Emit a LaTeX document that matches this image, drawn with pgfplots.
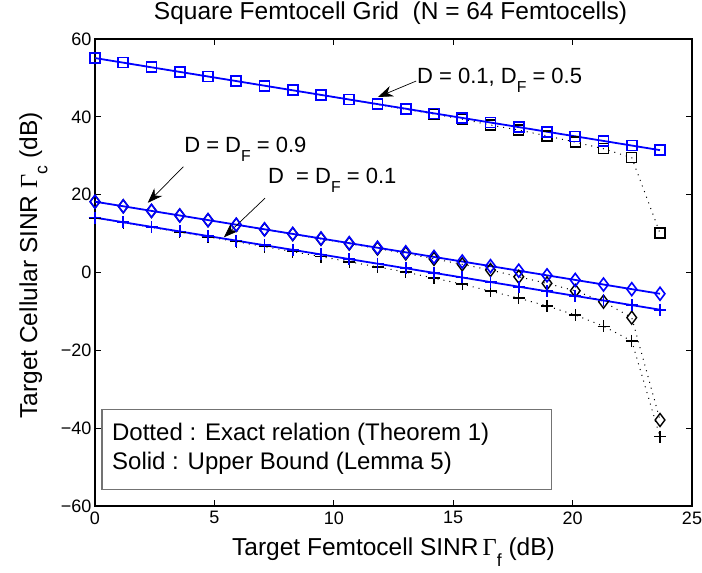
\documentclass[border=0pt]{standalone}
\usepackage{fontspec}
\setmainfont{Liberation Sans}
\newfontfamily\greekserif{Liberation Serif}
\usepackage{graphicx}
\usepackage{pgfplots}
\pgfplotsset{compat=1.18}
\usetikzlibrary{arrows.meta}

\newcommand{\lowsub}[1]{\raisebox{-0.42em}{\scalebox{0.72}{#1}}}
\newcommand{\Gam}{{\greekserif\char"0393}}

% x = target femtocell SINR (dB), 21 points
\pgfplotstableread{
x      ubA    exA    ubB    exB    ubC    exC
0.000  55.10  55.10  18.20  18.20  14.10  14.05
1.183  53.92  53.92  17.02  17.02  12.92  12.82
2.366  52.73  52.73  15.83  15.82  11.73  11.60
3.549  51.55  51.55  14.65  14.63  10.55  10.38
4.732  50.37  50.36  13.47  13.44   9.37   9.17
5.915  49.19  49.18  12.29  12.25   8.19   7.92
7.098  48.00  47.99  11.10  11.05   7.00   6.65
8.281  46.82  46.80   9.92   9.85   5.82   5.37
9.464  45.64  45.61   8.74   8.64   4.64   4.08
10.647 44.45  44.41   7.55   7.42   3.45   2.75
11.830 43.27  43.20   6.37   6.15   2.27   1.45
13.013 42.09  41.95   5.19   4.90   1.09   0.10
14.196 40.90  40.70   4.00   3.50  -0.10  -1.45
15.379 39.72  39.40   2.82   2.10  -1.28  -3.00
16.562 38.54  37.90   1.64   0.64  -2.46  -4.80
17.745 37.36  36.60   0.46  -1.10  -3.65  -6.60
18.928 36.17  35.10  -0.73  -2.80  -4.83  -8.60
20.111 34.99  33.50  -1.91  -4.70  -6.01 -10.90
21.294 33.81  31.80  -3.09  -7.50  -7.19 -13.80
22.477 32.62  29.50  -4.28 -11.60  -8.38 -17.60
23.660 31.44  10.10  -5.46 -37.90  -9.56 -42.20
}\datatable

\begin{document}
\begin{tikzpicture}
\begin{axis}[
    scale only axis,
    width=597pt, height=467pt,
    xmin=0, xmax=25, ymin=-60, ymax=60,
    xtick={0,5,10,15,20,25},
    xticklabels={0,5,10,15,20,25},
    ytick={-60,-40,-20,0,20,40,60},
    yticklabels={−60,−40,−20,0,20,40,60},
    tick align=inside,
    major tick length=6pt,
    tick style={line width=1pt, black},
    axis line style={line width=1.4pt},
    ticklabel style={font=\fontsize{18}{21}\selectfont},
    xticklabel style={yshift=-2pt},
    title={Square Femtocell Grid\ \ (N = 64 Femtocells)},
    title style={font=\fontsize{24.5}{28}\selectfont, at={(axis description cs:0.495,1)}, anchor=base, yshift=13pt},
    xlabel={Target Femtocell SINR\,\Gam\lowsub{f} (dB)},
    xlabel style={font=\fontsize{24.5}{28}\selectfont, at={(axis description cs:0.5,-0.107)}, anchor=base},
    ylabel={Target Cellular SINR \Gam\lowsub{c} (dB)},
    ylabel style={font=\fontsize{24.5}{28}\selectfont, at={(axis description cs:-0.097,0.515)}, anchor=base},
    clip=false,
]
\coordinate (sw) at (rel axis cs:0,0);
\coordinate (ne) at (rel axis cs:1,1);

% exact relation (dotted, black)
\addplot[black, line width=1pt, dash pattern=on 1pt off 5pt, mark=square, mark size=5pt,
  mark options={solid, line width=1.4pt}] table[x=x,y=exA] {\datatable};
\addplot[black, line width=1pt, dash pattern=on 1pt off 5pt, mark=diamond, mark size=6.5pt,
  mark options={solid, line width=1.4pt}] table[x=x,y=exB] {\datatable};
\addplot[black, line width=1pt, dash pattern=on 1pt off 5pt, mark=+, mark size=6pt,
  mark options={solid, line width=1.4pt}] table[x=x,y=exC] {\datatable};

% upper bound (solid, blue)
\addplot[blue, line width=1.8pt, mark=square, mark size=5pt,
  mark options={solid, line width=1.6pt}] table[x=x,y=ubA] {\datatable};
\addplot[blue, line width=1.8pt, mark=diamond, mark size=6.5pt,
  mark options={solid, line width=1.6pt}] table[x=x,y=ubB] {\datatable};
\addplot[blue, line width=1.8pt, mark=+, mark size=6pt,
  mark options={solid, line width=1.6pt}] table[x=x,y=ubC] {\datatable};

% annotations
\draw[line width=0.7pt, -{Stealth[length=15pt,width=11pt]}] (axis cs:13.45,49.2) -- (axis cs:11.85,45.1);
\node[anchor=base west, inner sep=0pt, font=\fontsize{22}{26}\selectfont] at (axis cs:13.48,48.6) {D = 0.1, D\lowsub{F} = 0.5};
\draw[line width=0.7pt, -{Stealth[length=15pt,width=11pt]}] (axis cs:3.70,27.2) -- (axis cs:2.21,17.9);
\node[anchor=base west, inner sep=0pt, font=\fontsize{22}{26}\selectfont] at (axis cs:3.73,30.8) {D = D\lowsub{F} = 0.9};
\draw[line width=0.7pt, -{Stealth[length=15pt,width=11pt]}] (axis cs:7.12,19.1) -- (axis cs:5.40,9.05);
\node[anchor=base west, inner sep=0pt, font=\fontsize{22}{26}\selectfont] at (axis cs:7.24,22.9) {D\ \ = D\lowsub{F} = 0.1};

% text box
\draw[line width=1.2pt, black!55, fill=white] (axis cs:0.29,-35.3) rectangle (axis cs:19.1,-55.7);
\node[anchor=base west, inner sep=0pt, font=\fontsize{24}{28}\selectfont] at (axis cs:0.71,-43.06) {Dotted : Exact relation (Theorem 1)};
\node[anchor=base west, inner sep=0pt, font=\fontsize{24}{28}\selectfont] at (axis cs:0.71,-50.6) {Solid : Upper Bound (Lemma 5)};
\end{axis}
\pgfresetboundingbox
\path ([shift={(-95pt,-66pt)}]sw) rectangle ([shift={(10pt,39pt)}]ne);
\end{tikzpicture}
\end{document}
